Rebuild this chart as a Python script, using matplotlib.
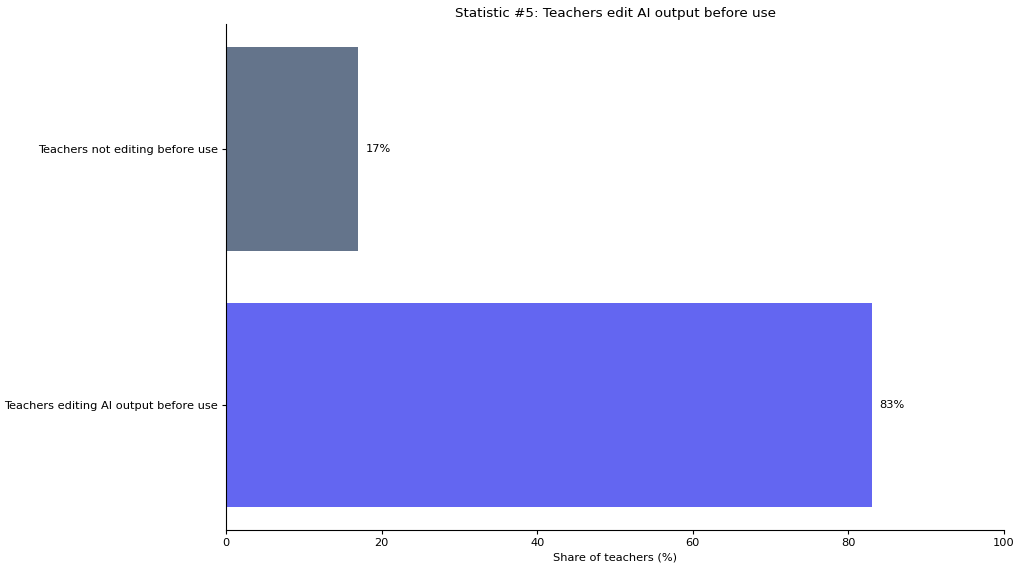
import matplotlib
matplotlib.use("Agg")
import matplotlib.pyplot as plt

categories = ["Teachers editing AI output before use", "Teachers not editing before use"]
values = [83, 17]
colors = ["#6366F1", "#64748B"]

fig, ax = plt.subplots(figsize=(10.24, 5.72), dpi=100)
fig.subplots_adjust(left=0.2207, right=0.9805, top=0.958, bottom=0.0734)

bars = ax.barh(categories, values, color=colors, height=0.8)
for b, v in zip(bars, values):
    ax.text(b.get_width() + 1, b.get_y() + b.get_height() / 2, f"{v}%",
            va="center", ha="left", fontsize=8.2)

ax.set_xlim(0, 100)
ax.set_xlabel("Share of teachers (%)", fontsize=8.2, labelpad=3)
ax.set_title("Statistic #5: Teachers edit AI output before use", fontsize=9.7, pad=5)
ax.tick_params(labelsize=8.2, length=3, pad=3)
ax.spines["top"].set_visible(False)
ax.spines["right"].set_visible(False)

fig.savefig("out.png", dpi=100)
